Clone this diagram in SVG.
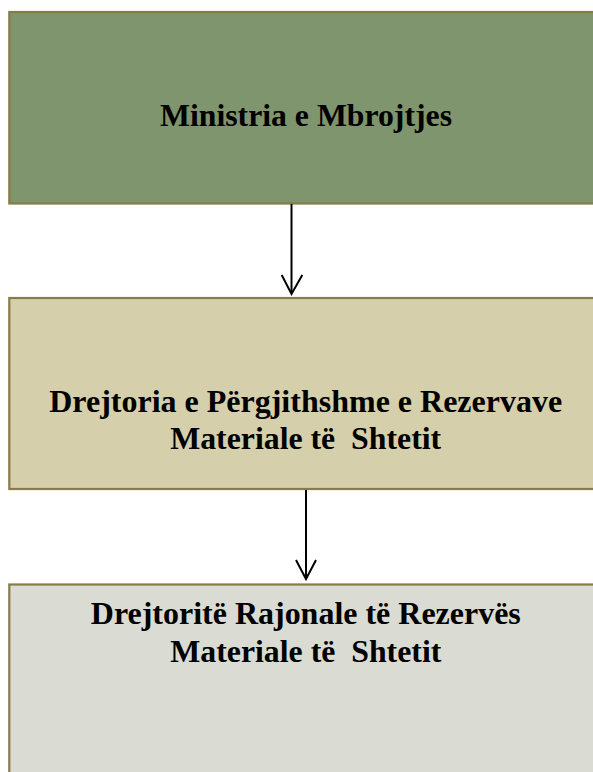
<svg xmlns="http://www.w3.org/2000/svg" width="593" height="772" viewBox="0 0 593 772">
<defs>
<style>
.box{stroke:#877b47;stroke-width:2.2}
.t{font-family:"Liberation Serif","Times New Roman",serif;font-weight:bold;font-size:32px;fill:#000;text-anchor:middle}
.c{stroke:#000;stroke-width:2;fill:none}
</style>
</defs>
<rect width="593" height="772" fill="#fff"/>
<g id="ministria">
<rect class="box" x="9.3" y="12" width="600" height="191.5" fill="#7f956e"/>
<text class="t" x="306" y="125.5" textLength="292" lengthAdjust="spacingAndGlyphs">Ministria e Mbrojtjes</text>
</g>
<g id="drejtoria">
<rect class="box" x="9.3" y="298" width="600" height="191" fill="#d5cfab"/>
<text class="t" x="305.7" y="412" textLength="513" lengthAdjust="spacingAndGlyphs">Drejtoria e Përgjithshme e Rezervave</text>
<text class="t" x="305.7" y="449" xml:space="preserve" textLength="271" lengthAdjust="spacingAndGlyphs">Materiale të  Shtetit</text>
</g>
<g id="drejtorite">
<rect class="box" x="9.3" y="584.5" width="600" height="200" fill="#dadbd3"/>
<text class="t" x="305.8" y="624.3" textLength="430" lengthAdjust="spacingAndGlyphs">Drejtoritë Rajonale të Rezervës</text>
<text class="t" x="305.8" y="662" xml:space="preserve" textLength="271" lengthAdjust="spacingAndGlyphs">Materiale të  Shtetit</text>
</g>
<g id="connectors">
<path class="c" d="M291.5,204 V293"/>
<path class="c" d="M281.7,275 L291.5,294 L302.3,275"/>
<path class="c" d="M306,490 V578"/>
<path class="c" d="M296,560 L306,579 L316,560"/>
</g>
</svg>
